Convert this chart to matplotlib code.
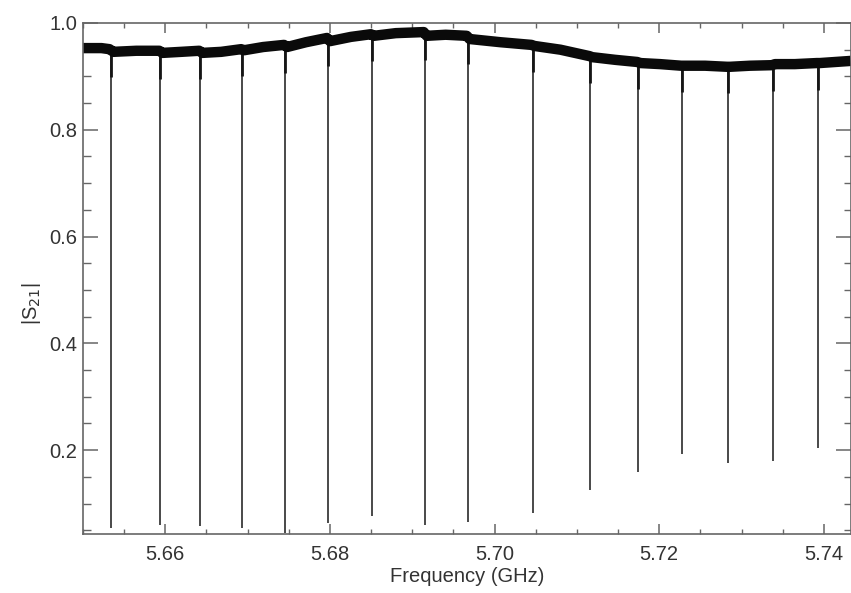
import numpy as np
import matplotlib.pyplot as plt
from matplotlib.ticker import MultipleLocator

# data

# baseline of |S21| between the resonances (GHz, value)
base_f = [5.6500, 5.65224, 5.65321, 5.65370, 5.65648, 5.65927, 5.65964, 5.66194,
          5.66412, 5.66448, 5.66679, 5.66921, 5.66958, 5.67188, 5.67442, 5.67479,
          5.67709, 5.67964, 5.68000, 5.68255, 5.68497, 5.68533, 5.68800, 5.69139,
          5.69176, 5.69406, 5.69661, 5.69697, 5.70073, 5.70448, 5.70485, 5.70800,
          5.71152, 5.71188, 5.71467, 5.71733, 5.71770, 5.72012, 5.72267, 5.72303,
          5.72558, 5.72824, 5.72861, 5.73103, 5.73370, 5.73406, 5.73648, 5.73915,
          5.73952, 5.74327]
base_s21 = [0.953, 0.953, 0.951, 0.946, 0.948, 0.948, 0.944, 0.946,
            0.948, 0.944, 0.946, 0.951, 0.949, 0.955, 0.959, 0.955,
            0.964, 0.972, 0.966, 0.974, 0.979, 0.976, 0.981, 0.983,
            0.976, 0.978, 0.976, 0.970, 0.964, 0.959, 0.957, 0.950,
            0.938, 0.936, 0.931, 0.927, 0.925, 0.923, 0.920, 0.920,
            0.920, 0.918, 0.918, 0.920, 0.921, 0.923, 0.923, 0.925,
            0.925, 0.929]

# resonances: frequency, value at top of dip, minimum of dip
res_f = [5.65345, 5.65939, 5.66424, 5.66933, 5.67455, 5.67976, 5.68509, 5.69152,
         5.69673, 5.70461, 5.71164, 5.71745, 5.72279, 5.72836, 5.73382, 5.73927]
res_top = [0.949, 0.946, 0.946, 0.950, 0.957, 0.969, 0.978, 0.980,
           0.973, 0.958, 0.937, 0.926, 0.920, 0.918, 0.922, 0.925]
res_min = [0.054, 0.060, 0.058, 0.054, 0.045, 0.064, 0.077, 0.060,
           0.065, 0.082, 0.125, 0.159, 0.193, 0.176, 0.179, 0.204]

plt.rcParams['font.family'] = ['Liberation Sans', 'DejaVu Sans']

fig = plt.figure(figsize=(8.51, 5.93), dpi=100)
ax = fig.add_axes([83 / 851, 1 - 534 / 593, 768 / 851, 511 / 593])

# thin dip lines, a bit thicker near the top where the dips widen
ax.vlines(res_f, res_min, res_top, color='#3a3a3a', lw=1.3)
top_part = [t - 0.05 for t in res_top]
ax.vlines(res_f, top_part, res_top, color='#151515', lw=2.0)

# thick noisy baseline
ax.plot(base_f, base_s21, color='#0a0a0a', lw=7.5, solid_capstyle='butt')

ax.set_xlim(5.6500, 5.7433)
ax.set_ylim(0.043, 1.0)

ax.xaxis.set_major_locator(MultipleLocator(0.02))
ax.xaxis.set_minor_locator(MultipleLocator(0.005))
ax.yaxis.set_major_locator(MultipleLocator(0.2))
ax.yaxis.set_minor_locator(MultipleLocator(0.05))
ax.xaxis.set_major_formatter(plt.FormatStrFormatter('%.2f'))
ax.yaxis.set_major_formatter(plt.FormatStrFormatter('%.1f'))

ax.tick_params(axis='both', which='both', direction='in', top=True, right=True,
               color='#666666', labelcolor='#333333', labelsize=14.5)
ax.tick_params(axis='x', which='major', length=7.2, width=1.1, pad=8)
ax.tick_params(axis='x', which='minor', length=3.6, width=1.0)
ax.tick_params(axis='y', which='major', length=10.8, width=1.1, pad=4)
ax.tick_params(axis='y', which='minor', length=5.4, width=1.0)

for s in ax.spines.values():
    s.set_color('#666666')
    s.set_linewidth(1.2)

ax.set_xlabel('Frequency (GHz)', fontsize=14.5, color='#333333', labelpad=2)
ax.set_ylabel('|S$_{21}$|', fontsize=14.5, color='#333333')
ax.yaxis.set_label_coords(-0.052, 0.45)

fig.savefig('out.png', dpi=100)
